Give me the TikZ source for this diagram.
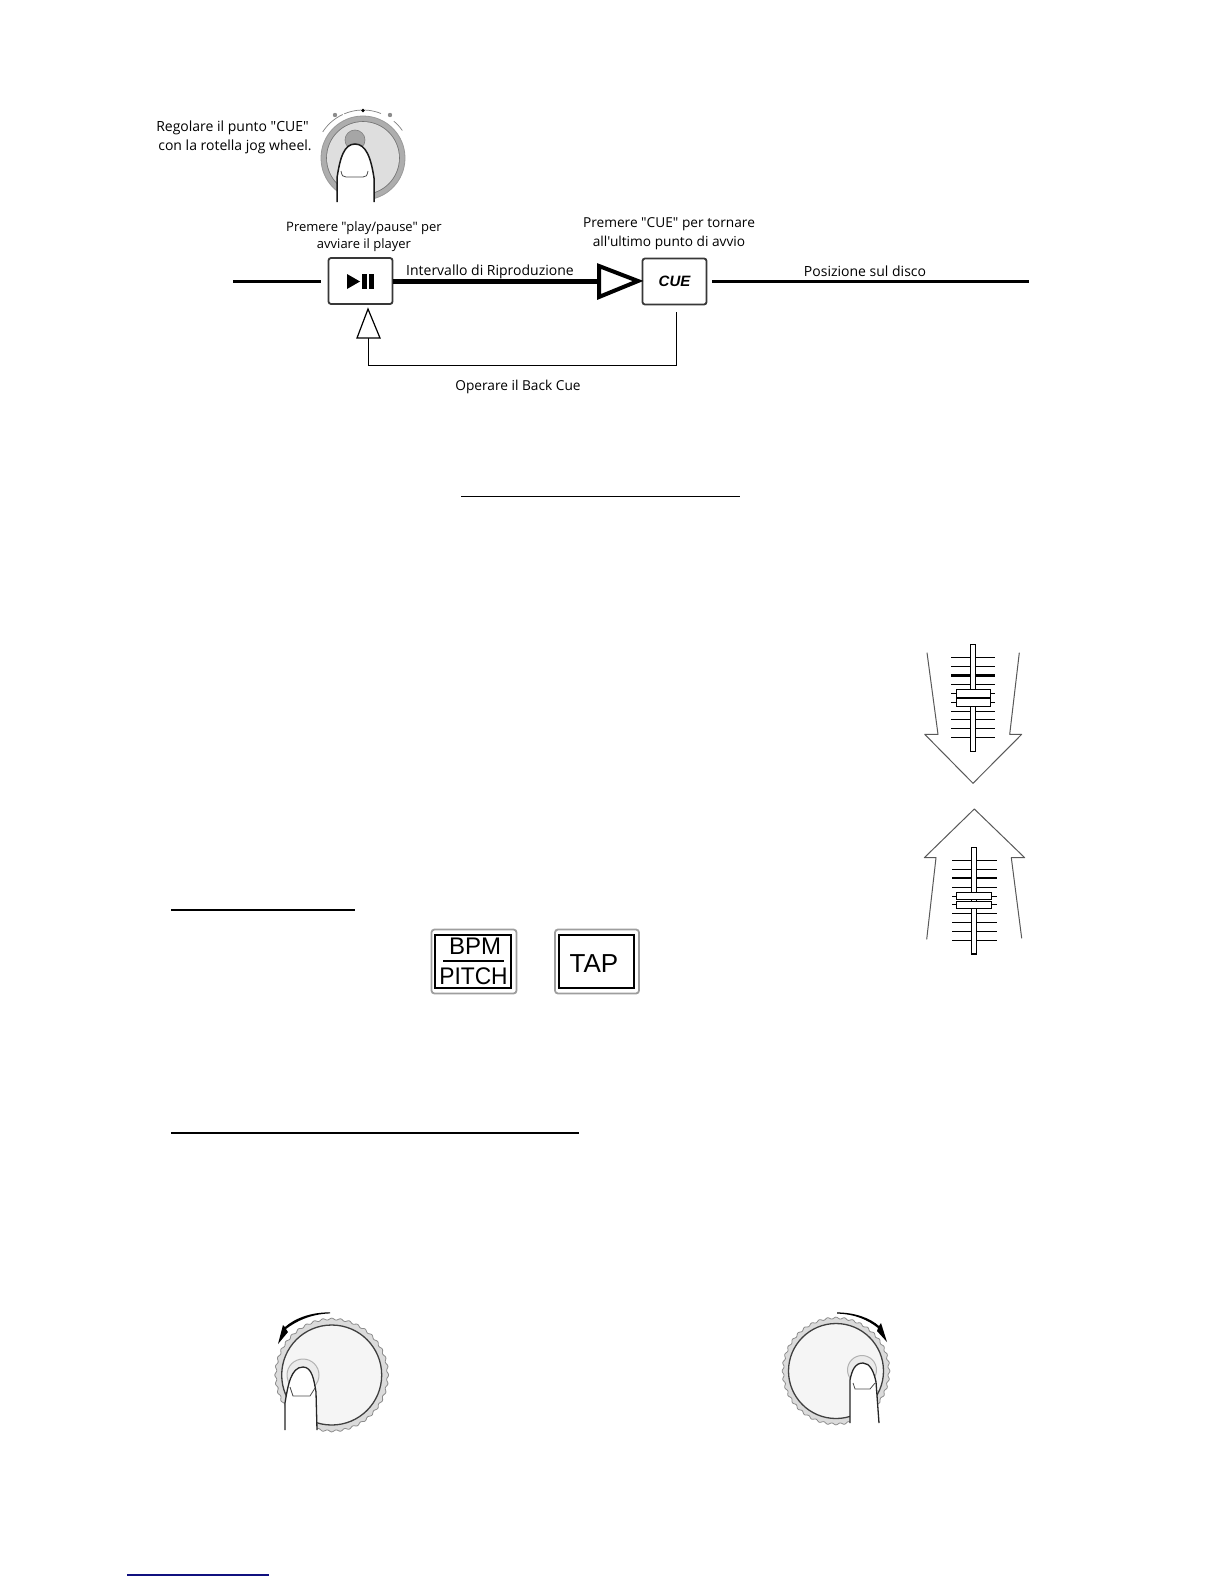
\documentclass[tikz,border=0pt]{standalone}
\usepackage{fontspec}
\setmainfont{Open Sans}
\newfontfamily\lblfont{Open Sans}
\newfontfamily\btnfont{Liberation Sans}
\usetikzlibrary{calc}
\definecolor{linkblue}{HTML}{10107F}
\tikzset{
  lbl/.style={font=\lblfont\fontsize{#1}{16}\selectfont,inner sep=0pt,anchor=center,text=black,text height=13.5pt,text depth=3pt},
  lbl/.default=14,
  ulineb/.style={line width=1.1pt,black},
  track/.style={draw=black,line width=1.3pt,fill=white},
  tick/.style={line width=1.1pt,black},
  thicktick/.style={line width=2.6pt,black},
  bigarrow/.style={draw=black!65,line width=1pt},
  ctlbtn/.style={draw=black!78,line width=1.8pt,rounded corners=2.5pt,fill=white,inner sep=0pt,minimum width=64pt,minimum height=46pt},
  panelbtn/.style={draw=black!38,line width=1.8pt,rounded corners=3pt,fill=white,inner sep=0pt},
  panelin/.style={draw=black,line width=2.6pt,fill=none,inner sep=0pt},
  fingerline/.style={line width=1.3pt,black!85},
  knobring/.style={draw=black!45,line width=.8pt,fill=black!14},
  knobface/.style={draw=black!75,line width=1.3pt,fill=black!4},
  knobhalo/.style={draw=black!30,line width=1pt,fill=black!8},
  nailline/.style={draw=black!70,line width=.8pt},
}
\begin{document}
\begin{tikzpicture}[x=1pt,y=-1pt]
\useasboundingbox (0,0) rectangle (1224,1584);
\fill[white] (0,0) rectangle (1224,1584);

% --- top jog wheel
\fill[black!32] (363,158) circle (42);
\fill[black!13] (363,158) circle (36);
\draw[black!55,line width=.6pt] (363,158) circle (36.5);
\draw[black!40,line width=.8pt] (363,158) circle (42);
\draw[black!50,line width=.7pt] (363,158) ++(-147:48) arc (-147:-115:48);
\draw[black!50,line width=.7pt] (363,158) ++(-113:48) arc (-113:-92:48);
\draw[black!50,line width=.7pt] (363,158) ++(-88:48) arc (-88:-68:48);
\draw[black!50,line width=.7pt] (363,158) ++(-50:48) arc (-50:-35:48);
\fill[black] (363,110.5) circle (1.8);
\fill[black!45] (335,115) circle (2.2);
\fill[black!45] (390,115) circle (2.2);
\fill[black!35] (355,140) circle (10);
\draw[black!50,line width=.6pt] (355,140) circle (10);
\fill[white] (337,203) -- (337,178) .. controls (340,158) and (344,144) .. (355,144) .. controls (366,144) and (371,158) .. (374,178) -- (374,203) -- cycle;
\draw[line width=1.5pt,black!90] (337,202) -- (337,178) .. controls (340,158) and (344,144) .. (355,144) .. controls (366,144) and (371,158) .. (374,178) -- (374,202);
\draw[nailline] (341,171) .. controls (342,176) and (343,177) .. (346,177) -- (363,177) .. controls (366,177) and (367,176) .. (368,171);
\node[lbl] (t1) at (232.5,126) {Regolare il punto "CUE"};
\node[lbl] (t2) at (235,145) {con la rotella jog wheel.};

% --- timeline
\coordinate (lineL) at (233,281);
\coordinate (lineLe) at (321,281);
\coordinate (lineR) at (712,281);
\coordinate (lineRe) at (1029,281);
\node[ctlbtn] (play) at (360.5,281) {};
\node[ctlbtn] (cue) at (674.5,281.5) {\btnfont\fontsize{15}{16}\selectfont\bfseries\itshape CUE};
\coordinate (triB) at (598,281);
\draw[line width=3pt,black] (lineL) -- (lineLe);
\draw[line width=3pt,black] (lineR) -- (lineRe);
\draw[line width=5pt,black] (play.east) -- (triB);
\draw[line width=4pt,black,fill=white,miter limit=10] (599,266) -- (638,281) -- (599,297) -- cycle;
\fill[black] (347,274) -- (360,281.5) -- (347,289) -- cycle;
\fill[black] (362,274) rectangle (367,289);
\fill[black] (369,274) rectangle (374,289);
\coordinate (backA) at (676,312);
\coordinate (backB) at (676,365);
\coordinate (backC) at (368,365);
\coordinate (backD) at (368,338);
\draw[line width=1pt,black] (backA) -- (backB) -- (backC) -- (backD);
\draw[line width=1.2pt,black,fill=white] (368,309) -- (380,338) -- (357,338) -- cycle;
\node[lbl=13] (p1) at (364,226) {Premere "play/pause" per};
\node[lbl=13] (p2) at (364,243.5) {avviare il player};
\node[lbl=13.7] (c1) at (669,222.7) {Premere "CUE" per tornare};
\node[lbl=13.7] (c2) at (669,241) {all'ultimo punto di avvio};
\node[lbl] (iv) at (490,270) {Intervallo di Riproduzione};
\node[lbl] (pd) at (865,271.5) {Posizione sul disco};
\node[lbl=13.7] (ob) at (518,385) {Operare il Back Cue};

% --- underlines
\draw[ulineb] (461,496.3) -- (740,496.3);
\draw[ulineb] (171,910) -- (355,910);
\draw[ulineb] (171,1133) -- (579,1133);
\draw[line width=1.1pt,linkblue] (127,1575) -- (269,1575);

% --- slider down
\draw[bigarrow,line join=round] (927,652.7) -- (938,734.3) -- (924.7,734.3) -- (973,783.3) -- (1021.7,734.3) -- (1009.7,734.3) -- (1019.3,652.7);
\foreach \yy in {657.3,666.3,684.3,693.3,702.3,711.3,719.3,728.3,737.3}{\draw[tick] (951,\yy) -- (995,\yy);}
\draw[thicktick] (951,675.3) -- (995,675.3);
\draw[track] (970.3,644.3) rectangle (975.7,751.3);
\draw[track] (956.3,689.3) rectangle (990.7,706.3);
\draw[line width=1.8pt,black] (956.3,697.8) -- (990.7,697.8);

% --- slider up
\draw[bigarrow,line join=round] (926.7,939.3) -- (936,857.7) -- (924.3,857.7) -- (974.3,809) -- (1024.7,857.7) -- (1011.3,857.7) -- (1021.7,938.3);
\foreach \yy in {860.3,869.3,887.3,896.3,904.3,913.3,922.3,931.3,940.3}{\draw[tick] (952,\yy) -- (997,\yy);}
\draw[thicktick] (952,878) -- (997,878);
\draw[track] (971.3,847.3) rectangle (976.7,954);
\draw[track] (956.3,892.3) rectangle (991.7,899.7);
\draw[track] (956.3,901.3) rectangle (991.7,908.3);

% --- panel buttons
\node[panelbtn,minimum width=85pt,minimum height=64pt] (bpmo) at (474,961.5) {};
\node[panelin,minimum width=76pt,minimum height=53pt] (bpmi) at (473,961.5) {};
\node[inner sep=0pt,font=\btnfont\fontsize{24}{24}\selectfont] (bpm) at (475,946.5) {BPM};
\draw[line width=1.3pt,black] (443,961) -- (504,961);
\node[inner sep=0pt,font=\btnfont\fontsize{24}{24}\selectfont] (pitch) at (473.5,976) {\scalebox{0.95}[1]{PITCH}};
\node[panelbtn,minimum width=84pt,minimum height=64pt] (tapo) at (597,961.5) {};
\node[panelin,minimum width=75pt,minimum height=53pt] (tapi) at (596.5,961.5) {};
\node[inner sep=0pt,font=\btnfont\fontsize{26}{26}\selectfont] (tap) at (594,964) {TAP};

% --- left knob
\draw[knobring,smooth,samples=360,domain=0:360] plot ({331.7+(56+.9*cos(40*\x))*cos(\x)},{1375+(56+.9*cos(40*\x))*sin(\x)});
\draw[knobface] (331.7,1375) circle (50);
\draw[knobhalo] (303,1375) circle (16);
\fill[white] (285,1437) -- (285,1403) .. controls (288,1385) and (291,1367) .. (303,1367) .. controls (312,1367) and (314,1380) .. (316,1392) -- (317,1437) -- cycle;
\draw[fingerline] (285,1430) -- (285,1403) .. controls (288,1385) and (291,1367) .. (303,1367) .. controls (312,1367) and (314,1380) .. (316,1392) -- (317,1430);
\draw[nailline] (290,1387) -- (293,1396) -- (310,1396) -- (315,1388);
\fill[black] (330,1313.4) .. controls (310,1314) and (295,1322) .. (286,1329) -- (288,1332) -- (278,1344) -- (283,1325) -- (285,1327) .. controls (295,1318) and (312,1312) .. (330,1312.4) -- cycle;

% --- right knob
\draw[knobring,smooth,samples=360,domain=0:360] plot ({836+(53+.9*cos(40*\x))*cos(\x)},{1371+(53+.9*cos(40*\x))*sin(\x)});
\draw[knobface] (836,1371) circle (47.5);
\draw[knobhalo] (862,1370) circle (14.5);
\fill[white] (850,1430) -- (850,1380) .. controls (852,1370) and (855,1363) .. (863,1363) .. controls (870,1363) and (874,1372) .. (876,1382) -- (879,1430) -- cycle;
\draw[fingerline] (850,1423) -- (850,1380) .. controls (852,1370) and (855,1363) .. (863,1363) .. controls (870,1363) and (874,1372) .. (876,1382) -- (879,1423);
\draw[nailline] (853,1383) -- (855,1389) -- (870,1389) -- (875,1383);
\fill[black] (837,1312.4) .. controls (855,1312.5) and (870,1318) .. (879,1326) -- (881,1323) -- (887,1342) -- (877,1331) -- (878,1328) .. controls (868,1320) and (855,1314) .. (837,1313.6) -- cycle;
\end{tikzpicture}
\end{document}
